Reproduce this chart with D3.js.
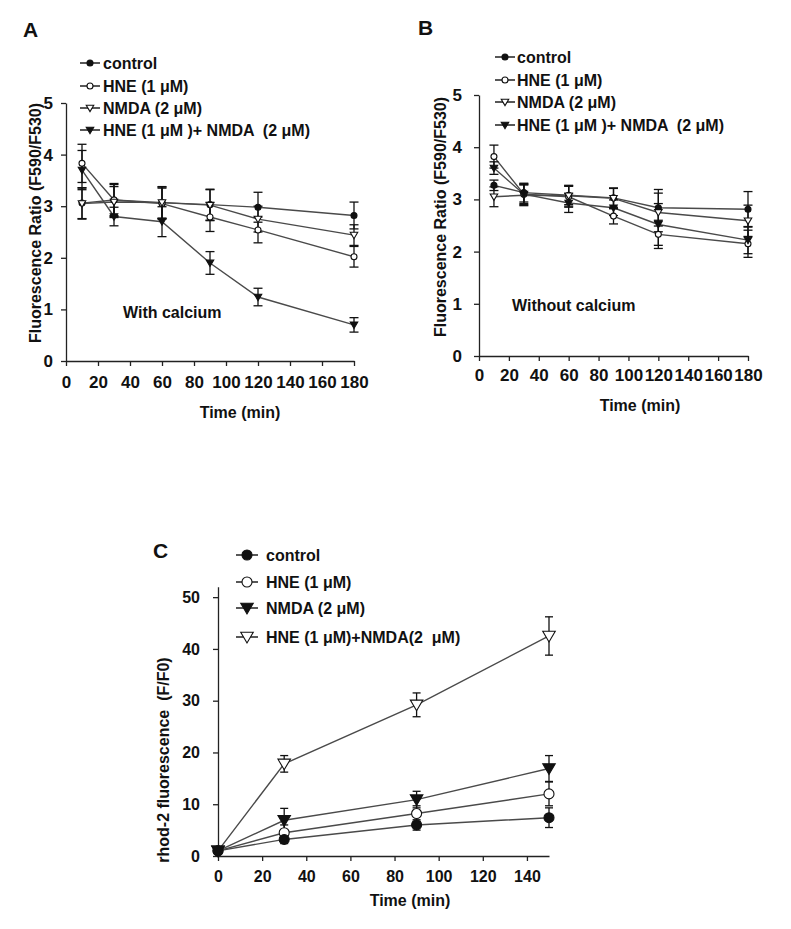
<!DOCTYPE html>
<html>
<head>
<meta charset="utf-8">
<script src="https://cdn.jsdelivr.net/npm/d3@7"></script>
<style>
  body { margin: 0; background: #fff; }
  svg text { font-family: "Liberation Sans", Arial, sans-serif; font-weight: bold; fill: #111; }
</style>
</head>
<body>
<svg id="fig" width="791" height="929"></svg>
<script>
// ---------- DATA ----------
const seriesAB = ["control", "HNE (1 μM)", "NMDA (2 μM)", "HNE (1 μM )+ NMDA  (2 μM)"];
const seriesC = ["control", "HNE (1 μM)", "NMDA (2 μM)", "HNE (1 μM)+NMDA(2  μM)"];
const timesAB = [10, 30, 60, 90, 120, 180];
const timesC = [0, 30, 90, 150];
const ticksAB_x = [0, 20, 40, 60, 80, 100, 120, 140, 160, 180];
const ticksAB_y = [0, 1, 2, 3, 4, 5];
const ticksC_x = [0, 20, 40, 60, 80, 100, 120, 140];
const ticksC_y = [0, 10, 20, 30, 40, 50];

// Panel A (with calcium)
const aControl = [3.06, 3.12, 3.07, 3.03, 2.98, 2.82];
const aHNE     = [3.83, 3.12, 3.05, 2.79, 2.54, 2.02];
const aNMDA    = [3.05, 3.08, 3.07, 3.02, 2.75, 2.44];
const aCombo   = [3.70, 2.80, 2.70, 1.90, 1.24, 0.70];
const aControlErr = [0.30, 0.32, 0.31, 0.30, 0.29, 0.26];
const aHNEErr     = [0.37, 0.30, 0.30, 0.28, 0.25, 0.20];
const aNMDAErr    = [0.30, 0.30, 0.30, 0.30, 0.25, 0.20];
const aComboErr   = [0.38, 0.18, 0.29, 0.22, 0.17, 0.14];

// Panel B (without calcium)
const bControl = [3.27, 3.13, 3.08, 3.03, 2.84, 2.81];
const bHNE     = [3.82, 3.10, 3.05, 2.68, 2.33, 2.15];
const bNMDA    = [3.05, 3.08, 3.07, 3.02, 2.75, 2.59];
const bCombo   = [3.60, 3.10, 2.93, 2.84, 2.52, 2.22];
const bControlErr = [0.10, 0.18, 0.18, 0.18, 0.35, 0.34];
const bHNEErr     = [0.22, 0.20, 0.20, 0.15, 0.27, 0.26];
const bNMDAErr    = [0.19, 0.20, 0.20, 0.20, 0.37, 0.30];
const bComboErr   = [0.12, 0.18, 0.18, 0.15, 0.40, 0.26];

// Panel C (rhod-2)
const cControl = [1.0, 3.2, 6.0, 7.4];
const cHNE     = [1.0, 4.5, 8.2, 12.0];
const cNMDA    = [1.0, 6.9, 10.9, 16.9];
const cCombo   = [1.0, 17.8, 29.2, 42.5];
const cControlErr = [0.5, 0.8, 1.0, 1.9];
const cHNEErr     = [0.5, 1.5, 1.5, 2.3];
const cNMDAErr    = [0.5, 2.3, 1.6, 2.5];
const cComboErr   = [0.5, 1.6, 2.3, 3.7];

// ---------- DRAWING ----------
const svg = d3.select("#fig");
const FONT = 16;

function marker(g, type, x, y, size) {
  // fc filled circle, oc open circle, ft filled down-triangle, ot open down-triangle
  if (type === "fc" || type === "oc") {
    g.append("circle").attr("cx", x).attr("cy", y).attr("r", size)
      .attr("fill", type === "fc" ? "#111" : "#fff").attr("stroke", "#111").attr("stroke-width", 1.1);
  } else {
    const s = size * 1.25;
    g.append("path")
      .attr("d", `M${x - s},${y - s * 0.75} L${x + s},${y - s * 0.75} L${x},${y + s * 0.95} Z`)
      .attr("fill", type === "ft" ? "#111" : "#fff").attr("stroke", "#111").attr("stroke-width", 1.1);
  }
}

function panel(cfg) {
  const x = d3.scaleLinear().domain(cfg.xDomain).range(cfg.xRange);
  const y = d3.scaleLinear().domain(cfg.yDomain).range(cfg.yRange);
  const g = svg.append("g");
  const fmt = d3.format("d");

  const xa = g.append("g").attr("transform", `translate(0,${cfg.yRange[0]})`)
    .call(d3.axisBottom(x).tickValues(cfg.xTicks).tickFormat(fmt).tickSize(5).tickPadding(cfg.xPad).tickSizeOuter(0));
  const ya = g.append("g").attr("transform", `translate(${cfg.xRange[0]},0)`)
    .call(d3.axisLeft(y).tickValues(cfg.yTicks).tickFormat(fmt).tickSize(5).tickPadding(cfg.yPad).tickSizeOuter(0));
  [xa, ya].forEach(a => {
    a.selectAll("path").attr("stroke", "#222").attr("stroke-width", 1.3);
    a.selectAll("line").attr("stroke", "#222").attr("stroke-width", 1.3);
    a.selectAll("text").attr("font-size", cfg.tickFont).attr("fill", "#111")
      .style("font-family", "'Liberation Sans', Arial, sans-serif").style("font-weight", "bold");
  });

  const line = d3.line().x(d => x(d[0])).y(d => y(d[1]));
  cfg.series.forEach(s => {
    const pts = cfg.times.map((t, i) => [t, s.vals[i]]);
    g.append("path").attr("d", line(pts)).attr("fill", "none")
      .attr("stroke", "#4a4a4a").attr("stroke-width", 1.4);
  });
  cfg.series.forEach(s => {
    cfg.times.forEach((t, i) => {
      const xx = x(t), y1 = y(s.vals[i] + s.err[i]), y2 = y(s.vals[i] - s.err[i]);
      g.append("line").attr("x1", xx).attr("x2", xx).attr("y1", y1).attr("y2", y2)
        .attr("stroke", "#111").attr("stroke-width", 1.3);
      [y1, y2].forEach(yy => g.append("line").attr("x1", xx - cfg.cap).attr("x2", xx + cfg.cap)
        .attr("y1", yy).attr("y2", yy).attr("stroke", "#111").attr("stroke-width", 1.3));
    });
  });
  cfg.series.forEach(s => {
    cfg.times.forEach((t, i) => marker(g, s.type, x(t), y(s.vals[i]), cfg.msize));
  });

  cfg.series.forEach((s, i) => {
    const ly = cfg.legY[i];
    g.append("line").attr("x1", cfg.legX[0]).attr("x2", cfg.legX[1]).attr("y1", ly).attr("y2", ly)
      .attr("stroke", "#111").attr("stroke-width", 1.4);
    marker(g, s.type, (cfg.legX[0] + cfg.legX[1]) / 2, ly, cfg.msize);
    g.append("text").attr("x", cfg.legX[2]).attr("y", ly).attr("dy", "0.36em")
      .attr("font-size", FONT).style("white-space", "pre").text(s.name);
  });

  g.append("text").attr("x", cfg.xTitle[0]).attr("y", cfg.xTitle[1]).attr("text-anchor", "middle")
    .attr("font-size", FONT).text("Time (min)");
  g.append("text").attr("transform", `translate(${cfg.yTitle[0]},${cfg.yTitle[1]}) rotate(-90)`)
    .attr("text-anchor", "middle").attr("dy", "0.36em").attr("font-size", FONT)
    .style("white-space", "pre").text(cfg.yLabel);
  g.append("text").attr("x", cfg.letter[0]).attr("y", cfg.letter[1]).attr("font-size", 21).text(cfg.letter[2]);
  if (cfg.note) g.append("text").attr("x", cfg.note[0]).attr("y", cfg.note[1]).attr("font-size", FONT).text(cfg.note[2]);
}

panel({
  xDomain: [0, 180], xRange: [66, 354], yDomain: [0, 5], yRange: [361, 103],
  xTicks: ticksAB_x, yTicks: ticksAB_y, xPad: 10, yPad: 8, tickFont: 17, times: timesAB, cap: 4.5, msize: 3,
  series: [
    { name: seriesAB[0], vals: aControl, err: aControlErr, type: "fc" },
    { name: seriesAB[1], vals: aHNE, err: aHNEErr, type: "oc" },
    { name: seriesAB[2], vals: aNMDA, err: aNMDAErr, type: "ot" },
    { name: seriesAB[3], vals: aCombo, err: aComboErr, type: "ft" }
  ],
  legX: [80, 100, 103], legY: [63, 86, 108, 130],
  xTitle: [240, 418], yTitle: [35, 223], yLabel: "Fluorescence Ratio (F590/F530)",
  letter: [23, 37, "A"], note: [123, 318, "With calcium"]
});

panel({
  xDomain: [0, 180], xRange: [479, 748], yDomain: [0, 5], yRange: [356, 95],
  xTicks: ticksAB_x, yTicks: ticksAB_y, xPad: 8, yPad: 12, tickFont: 17, times: timesAB, cap: 4.5, msize: 3,
  series: [
    { name: seriesAB[0], vals: bControl, err: bControlErr, type: "fc" },
    { name: seriesAB[1], vals: bHNE, err: bHNEErr, type: "oc" },
    { name: seriesAB[2], vals: bNMDA, err: bNMDAErr, type: "ot" },
    { name: seriesAB[3], vals: bCombo, err: bComboErr, type: "ft" }
  ],
  legX: [495, 515, 517], legY: [57, 80, 102, 125],
  xTitle: [640, 411], yTitle: [440, 217], yLabel: "Fluorescence Ratio (F590/F530)",
  letter: [418, 35, "B"], note: [512, 311, "Without calcium"]
});

panel({
  xDomain: [0, 150], xRange: [218, 549], yDomain: [0, 52], yRange: [856, 586.8],
  xTicks: ticksC_x, yTicks: ticksC_y, xPad: 10, yPad: 13, tickFont: 16, times: timesC, cap: 4, msize: 5,
  series: [
    { name: seriesC[3], vals: cCombo, err: cComboErr, type: "ot" },
    { name: seriesC[1], vals: cHNE, err: cHNEErr, type: "oc" },
    { name: seriesC[2], vals: cNMDA, err: cNMDAErr, type: "ft" },
    { name: seriesC[0], vals: cControl, err: cControlErr, type: "fc" }
  ],
  legX: [236, 258, 266], legY: [637, 582, 608, 555],
  xTitle: [410, 906], yTitle: [163, 760], yLabel: "rhod-2 fluorescence  (F/F0)",
  letter: [153, 558, "C"]
});
</script>
</body>
</html>
